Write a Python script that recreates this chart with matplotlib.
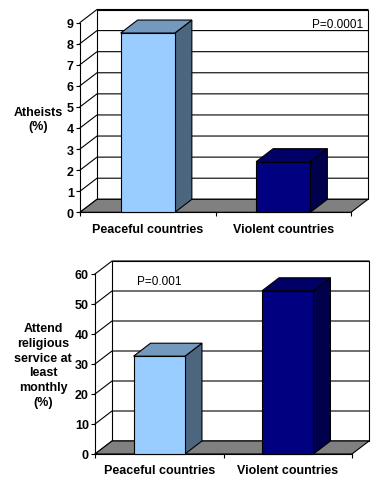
import matplotlib.pyplot as plt
from matplotlib.patches import Polygon

plt.rcParams['font.family'] = ['Liberation Sans', 'DejaVu Sans']

# Daten
categories = ['Peaceful countries', 'Violent countries']
atheists = [8.5, 2.4]
attendance = [32.6, 54.4]
atheists_ticks = list(range(0, 10))
attendance_ticks = list(range(0, 61, 10))

front_colors = ['#99CCFF', '#000080']
top_colors = ['#7399BF', '#000066']
side_colors = ['#4C6680', '#00004D']

FIG_W, FIG_H = 384, 481
DX, DY = 17, 13  # Tiefe der 3D-Ansicht in Pixeln


def draw_3d_bars(fig, rect, values, ticks, ylabel, label_pos, ptext, ppos, pha, xpad):
    """
    Zeichnet ein Excel-artiges 3D-Säulendiagramm in die Achse an rect (Pixel)
    """
    left, top, right, bottom = rect
    ax = fig.add_axes([left / FIG_W, 1 - bottom / FIG_H,
                       (right - left) / FIG_W, (bottom - top) / FIG_H])
    ymax = ticks[-1]
    ax.set_xlim(-0.5, 1.5)
    ax.set_ylim(0, ymax)

    # Tiefe in Dateneinheiten umrechnen
    ddx = DX * 2.0 / (right - left)
    ddy = DY * ymax / (bottom - top)
    lw = 0.8

    # Rückwand
    wall = Polygon([(-0.5 + ddx, ddy), (1.5 + ddx, ddy),
                    (1.5 + ddx, ymax + ddy), (-0.5 + ddx, ymax + ddy)],
                   closed=True, facecolor='white', edgecolor='black',
                   linewidth=lw, clip_on=False, zorder=0)
    ax.add_patch(wall)

    # Gitterlinien auf Seiten- und Rückwand
    for v in ticks:
        ax.plot([-0.5, -0.5 + ddx, 1.5 + ddx], [v, v + ddy, v + ddy],
                color='black', linewidth=lw, clip_on=False, zorder=0.5)

    # Boden
    floor = Polygon([(-0.5, 0), (1.5, 0), (1.5 + ddx, ddy), (-0.5 + ddx, ddy)],
                    closed=True, facecolor='#808080', edgecolor='black',
                    linewidth=lw, clip_on=False, zorder=1)
    ax.add_patch(floor)

    # Säulen
    w = 0.4
    for i, v in enumerate(values):
        x0, x1 = i - w / 2, i + w / 2
        front = Polygon([(x0, 0), (x1, 0), (x1, v), (x0, v)], closed=True,
                        facecolor=front_colors[i], edgecolor='black',
                        linewidth=lw, clip_on=False, zorder=3)
        topf = Polygon([(x0, v), (x1, v), (x1 + ddx, v + ddy), (x0 + ddx, v + ddy)],
                       closed=True, facecolor=top_colors[i], edgecolor='black',
                       linewidth=lw, clip_on=False, zorder=3)
        side = Polygon([(x1, 0), (x1 + ddx, ddy), (x1 + ddx, v + ddy), (x1, v)],
                       closed=True, facecolor=side_colors[i], edgecolor='black',
                       linewidth=lw, clip_on=False, zorder=3)
        ax.add_patch(side)
        ax.add_patch(topf)
        ax.add_patch(front)

    # Achsen
    for s in ['top', 'right']:
        ax.spines[s].set_visible(False)
    ax.spines['left'].set_linewidth(lw)
    ax.spines['bottom'].set_linewidth(lw)
    ax.spines['left'].set_zorder(2)
    ax.spines['bottom'].set_zorder(2)
    ax.set_facecolor('none')

    ax.set_yticks(ticks)
    ax.set_yticklabels([str(t) for t in ticks], fontsize=9, fontweight='bold')
    ax.tick_params(axis='y', direction='out', length=3, width=lw, pad=1.5)

    ax.set_xticks([0, 1])
    ax.set_xticklabels(categories, fontsize=9, fontweight='bold')
    ax.set_xticks([-0.5, 0.5, 1.5], minor=True)
    ax.tick_params(axis='x', which='major', length=0, pad=xpad)
    ax.tick_params(axis='x', which='minor', direction='out', length=3, width=lw)

    # Beschriftungen
    fig.text(label_pos[0] / FIG_W, 1 - label_pos[1] / FIG_H, ylabel,
             ha='center', va='center', fontsize=9, fontweight='bold',
             linespacing=1.3)
    fig.text(ppos[0] / FIG_W, 1 - ppos[1] / FIG_H, ptext,
             ha=pha, va='center', fontsize=8.5)
    return ax


fig = plt.figure(figsize=(FIG_W / 100, FIG_H / 100), dpi=100)

draw_3d_bars(fig, (80, 23.5, 351, 213.3), atheists, atheists_ticks,
             'Atheists\n(%)', (38, 120), 'P=0.0001', (363, 25), 'right', 7.5)

draw_3d_bars(fig, (95, 275, 352, 455), attendance, attendance_ticks,
             'Attend\nreligious\nservice at\nleast\nmonthly\n(%)', (43, 366),
             'P=0.001', (137, 282), 'left', 7)

plt.savefig('out.png', dpi=100)
